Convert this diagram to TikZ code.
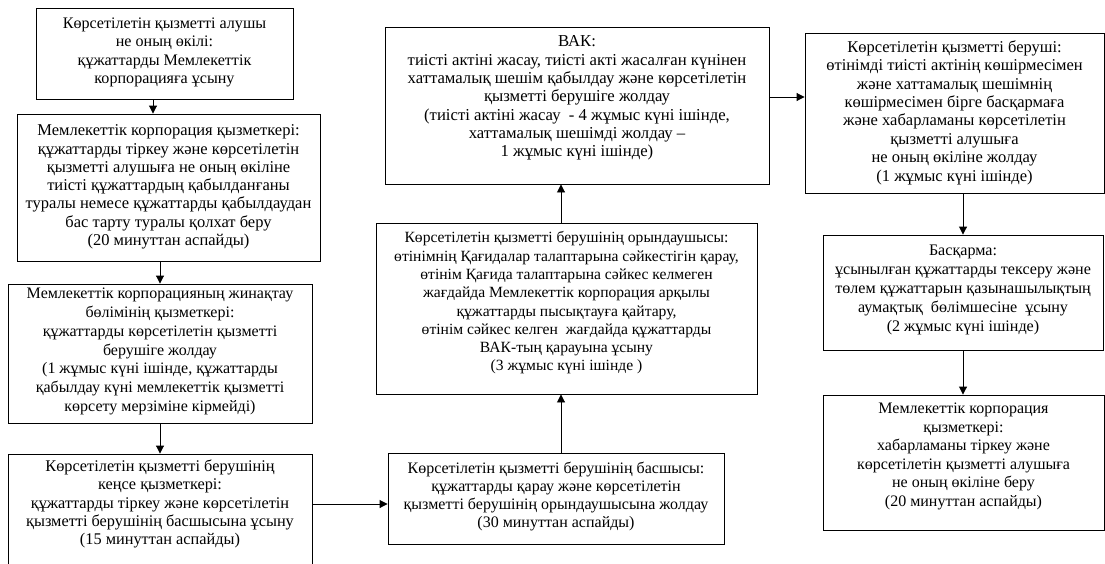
\documentclass[tikz,border=0pt]{standalone}
\usepackage{fontspec}
\setmainfont{Liberation Serif}
\usetikzlibrary{arrows.meta,fit}
\begin{document}
\begin{tikzpicture}[x=1pt,y=-1pt,
  frame/.style={draw, line width=0.9pt, inner sep=0pt},
  txt/.style={align=center, font=\fontsize{16}{18.6}\selectfont, inner sep=0pt},
  fs/.style 2 args={font=\fontsize{#1}{#2}\selectfont},
  arr/.style={draw, line width=0.9pt, -{Triangle[length=8pt,width=8pt]}}]
\useasboundingbox (0,0) rectangle (1105,563);
\fill[white] (0,0) rectangle (1105,563);
% frames
\node[frame, fit={(36,8) (293,99)}] (b1) {};
\node[frame, fit={(17,114) (320,261)}] (b2) {};
\node[frame, fit={(8,284) (312,423)}] (b3) {};
\node[frame, fit={(8,454) (312,620)}] (b4) {};
\node[frame, fit={(388,453) (724,544)}] (b5) {};
\node[frame, fit={(376,223) (757,394)}] (b6) {};
\node[frame, fit={(385,27) (769,184)}] (b7) {};
\node[frame, fit={(805,33) (1104,193)}] (b8) {};
\node[frame, fit={(823,235) (1103,350)}] (b9) {};
\node[frame, fit={(823,395) (1104,530)}] (b10) {};
% texts
\node[txt, fs={16.1}{18.3}] (t1) at (164.5,52.5) {Көрсетілетін қызметті алушы\\не оның өкілі:\\құжаттарды Мемлекеттік\\корпорацияға ұсыну};
\node[txt, fs={16.5}{18.3}] (t2) at (168.5,187) {Мемлекеттік корпорация қызметкері:\\құжаттарды тіркеу және көрсетілетін\\қызметті алушыға не оның өкіліне\\тиісті құжаттардың қабылданғаны\\туралы немесе құжаттарды қабылдаудан\\бас тарту туралы қолхат беру\\(20 минуттан аспайды)};
\node[txt, fs={16}{18.8}] (t3) at (160,351.5) {Мемлекеттік корпорацияның жинақтау\\бөлімінің қызметкері:\\құжаттарды көрсетілетін қызметті\\берушіге жолдау\\(1 жұмыс күні ішінде, құжаттарды\\қабылдау күні мемлекеттік қызметті\\көрсету мерзіміне кірмейді)};
\node[txt, fs={16.3}{18.2}] (t4) at (160,504) {Көрсетілетін қызметті берушінің\\кеңсе қызметкері:\\құжаттарды тіркеу және көрсетілетін\\қызметті берушінің басшысына ұсыну\\(15 минуттан аспайды)};
\node[txt, fs={16}{17.8}] (t5) at (556,496.5) {Көрсетілетін қызметті берушінің басшысы:\\құжаттарды қарау және көрсетілетін\\қызметті берушінің орындаушысына жолдау\\(30 минуттан аспайды)};
\node[txt, fs={15.6}{18.3}] (t6) at (566.5,303) {Көрсетілетін қызметті берушінің орындаушысы:\\өтінімнің Қағидалар талаптарына сәйкестігін қарау,\\өтінім Қағида талаптарына сәйкес келмеген\\жағдайда Мемлекеттік корпорация арқылы\\құжаттарды пысықтауға қайтару,\\өтінім сәйкес келген\ \ жағдайда құжаттарды\\ВАК-тың қарауына ұсыну\\(3 жұмыс күні ішінде )};
\node[txt, fs={16.7}{18.3}] (t7) at (577,98) {ВАК:\\тиісті актіні жасау, тиісті акті жасалған күнінен\\хаттамалық шешім қабылдау және көрсетілетін\\қызметті берушіге жолдау\\(тиісті актіні жасау\ \ - 4 жұмыс күні ішінде,\\хаттамалық шешімді жолдау –\\1 жұмыс күні ішінде)};
\node[txt, fs={16.5}{18.4}] (t8) at (954.5,112.5) {Көрсетілетін қызметті беруші:\\өтінімді тиісті актінің көшірмесімен\\және хаттамалық шешімнің\\көшірмесімен бірге басқармаға\\және хабарламаны көрсетілетін\\қызметті алушыға\\не оның өкіліне жолдау\\(1 жұмыс күні ішінде)};
\node[txt, fs={16.1}{19}] (t9) at (963,290) {Басқарма:\\ұсынылған құжаттарды тексеру және\\төлем құжаттарын қазынашылықтың\\аумақтық\ \ бөлімшесіне\ \ ұсыну\\(2 жұмыс күні ішінде)};
\node[txt, fs={16}{18.6}] (t10) at (963.5,456.5) {Мемлекеттік корпорация\\қызметкері:\\хабарламаны тіркеу және\\көрсетілетін қызметті алушыға\\не оның өкіліне беру\\(20 минуттан аспайды)};
% connector guides
\coordinate (c1) at (153,0);
\coordinate (c2) at (160,0);
\coordinate (c5) at (561,0);
\coordinate (c7) at (0,97);
\coordinate (c8) at (963,0);
% connectors
\draw[arr] (b1.south -| c1) -- (b2.north -| c1);
\draw[arr] (b2.south -| c2) -- (b3.north -| c2);
\draw[arr] (b3.south -| c2) -- (b4.north -| c2);
\draw[arr] (t4.east -| b4.east) -- (t4.east -| b5.west);
\draw[arr] (b5.north -| c5) -- (b6.south -| c5);
\draw[arr] (b6.north -| c5) -- (b7.south -| c5);
\draw[arr] (b7.east |- c7) -- (b8.west |- c7);
\draw[arr] (b8.south -| c8) -- (b9.north -| c8);
\draw[arr] (b9.south -| c8) -- (b10.north -| c8);
\end{tikzpicture}
\end{document}
